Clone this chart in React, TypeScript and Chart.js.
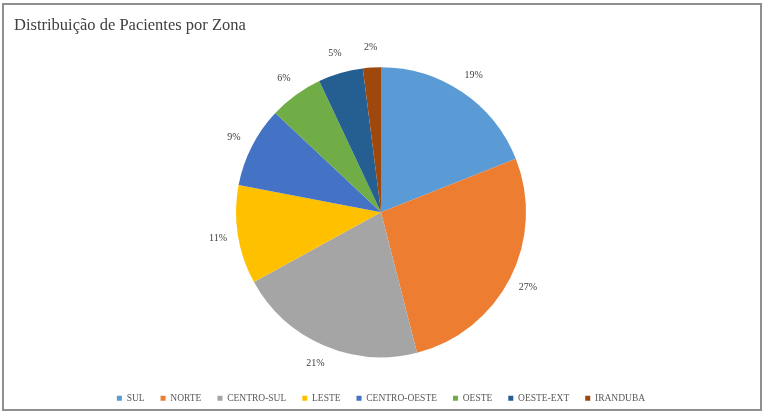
import React, { useEffect, useRef } from "react";
import { Chart, registerables } from "chart.js";

Chart.register(...registerables);

const chartTitle = "Distribuição de Pacientes por Zona";
const zones = ["SUL", "NORTE", "CENTRO-SUL", "LESTE", "CENTRO-OESTE", "OESTE", "OESTE-EXT", "IRANDUBA"];
const shares = [19, 27, 21, 11, 9, 6, 5, 2];
const zoneColors = ["#5B9BD5", "#ED7D31", "#A5A5A5", "#FFC000", "#4472C4", "#70AD47", "#255E91", "#9E480E"];

const SERIF = "'Liberation Serif', 'Times New Roman', serif";

const framePlugin = {
  id: "frameAndTitle",
  beforeDraw(chart: any) {
    const ctx = chart.ctx;
    ctx.save();
    ctx.fillStyle = "#ffffff";
    ctx.fillRect(0, 0, chart.width, chart.height);
    ctx.strokeStyle = "#8f8f8f";
    ctx.lineWidth = 2;
    ctx.strokeRect(3, 4, 758, 406);
    ctx.fillStyle = "#404040";
    ctx.font = `16.5px ${SERIF}`;
    ctx.textAlign = "left";
    ctx.textBaseline = "middle";
    ctx.fillText(chartTitle, 14, 26);
    ctx.restore();
  },
};

const outsideLabels = {
  id: "outsideLabels",
  afterDatasetsDraw(chart: any) {
    const ctx = chart.ctx;
    const meta = chart.getDatasetMeta(0);
    const data = chart.data.datasets[0].data as number[];
    const total = data.reduce((a, b) => a + b, 0);
    ctx.save();
    ctx.fillStyle = "#404040";
    ctx.font = `10px ${SERIF}`;
    ctx.textAlign = "center";
    ctx.textBaseline = "middle";
    meta.data.forEach((arc: any, i: number) => {
      const p = arc.getProps(["x", "y", "startAngle", "endAngle", "outerRadius"], true);
      const mid = (p.startAngle + p.endAngle) / 2;
      const r = p.outerRadius + 20;
      const x = p.x + Math.cos(mid) * r;
      const y = p.y + Math.sin(mid) * r;
      ctx.fillText(Math.round((data[i] / total) * 100) + "%", x, y);
    });
    ctx.restore();
  },
};

export default function App() {
  const ref = useRef<HTMLCanvasElement>(null);
  useEffect(() => {
    if (!ref.current) return;
    const chart = new Chart(ref.current, {
      type: "pie",
      data: {
        labels: zones,
        datasets: [
          {
            data: shares,
            backgroundColor: zoneColors,
            borderWidth: 0,
            radius: 145,
          } as any,
        ],
      },
      options: {
        responsive: false,
        animation: false,
        devicePixelRatio: 1,
        layout: { padding: { top: 47, left: 0, right: 6, bottom: 4 } },
        plugins: {
          title: { display: false },
          tooltip: { enabled: false },
          legend: {
            position: "bottom",
            labels: {
              font: { family: SERIF, size: 9.5 },
              color: "#595959",
              boxWidth: 5,
              boxHeight: 5,
              padding: 16,
            },
          },
        },
      },
      plugins: [framePlugin, outsideLabels],
    });
    return () => chart.destroy();
  }, []);
  return (
    <div style={{ position: "absolute", left: 0, top: 0, width: 768, height: 417 }}>
      <canvas ref={ref} width={768} height={417} />
    </div>
  );
}
